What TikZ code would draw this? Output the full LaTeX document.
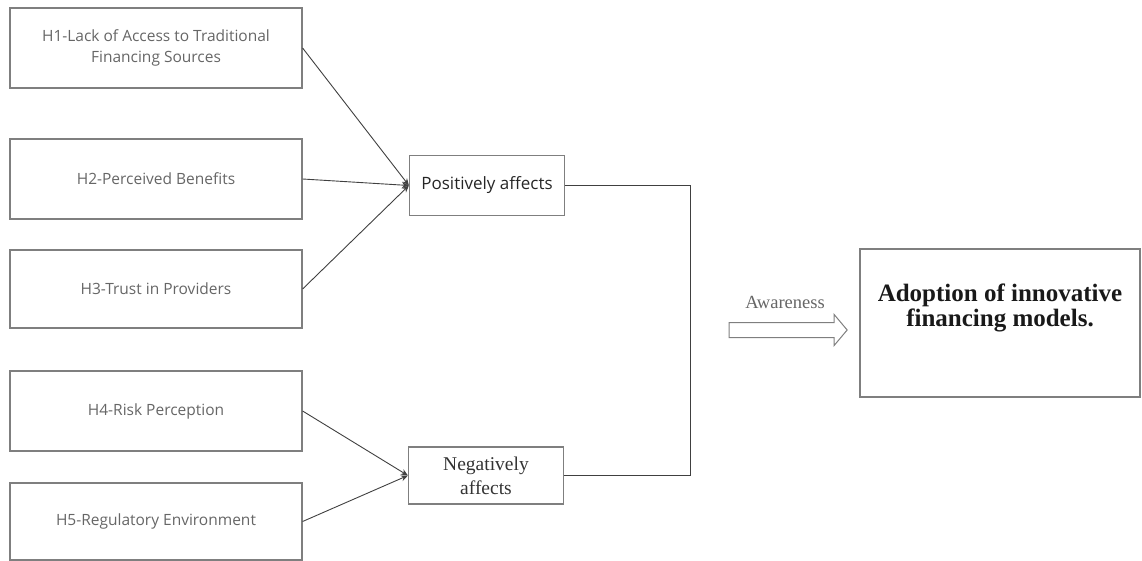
\documentclass[tikz,border=0pt]{standalone}
\usepackage{fontspec}
\setmainfont{Liberation Serif}
\newfontfamily\uifont{Open Sans}
\usetikzlibrary{positioning, arrows.meta, shapes.arrows}
\definecolor{boxgray}{HTML}{7F7F7F}
\definecolor{textgray}{HTML}{666666}

\begin{document}
\begin{tikzpicture}[x=1pt, y=-1pt, >={Stealth[length=7pt,width=6pt]}, semithick,
                hyp/.style={draw=boxgray, line width=1.2pt, minimum width=292pt, minimum height=80pt,
                            align=center, text=textgray, font=\uifont\fontsize{15.5}{21}\selectfont},
                effect/.style={draw=boxgray, line width=1.2pt, minimum width=155pt, align=center},
                link/.style={draw=black!75, line width=0.9pt}]

                \useasboundingbox (0,0) rectangle (1142,561);

                \node[hyp] (h1) at (156,48) {H1-Lack of Access to Traditional\\Financing Sources};
                \node[hyp] (h2) at (156,179) {H2-Perceived Benefits};
                \node[hyp, minimum height=78pt] (h3) at (156,289) {H3-Trust in Providers};
                \node[hyp] (h4) at (156,411) {H4-Risk Perception};
                \node[hyp, minimum height=77pt] (h5) at (156,521.5) {H5-Regulatory Environment};

                \node[effect, minimum height=60pt, text=black!85,
                      font=\uifont\fontsize{17}{20}\selectfont] (pos) at (487,185.5) {Positively affects};
                \node[effect, minimum height=57pt, text=black!80,
                      font=\fontsize{19.5}{24}\selectfont] (neg) at (486,475.5) {Negatively\\affects};

                \node[draw=boxgray, line width=1.2pt, minimum width=280pt, minimum height=148pt] (adopt) at (1000,323) {};
                \node[align=center, text=black!90, font=\bfseries\fontsize{25}{25}\selectfont] (adopttext) at (1000,307.5)
                      {Adoption of innovative\\financing models.};

                \node[single arrow, draw=boxgray, line width=1pt, inner xsep=0pt, inner ysep=7pt, minimum height=118pt,
                      single arrow head extend=8pt, single arrow tip angle=100] (awarrow) at (785,330) {};
                \node[text=textgray, font=\fontsize{18.5}{20}\selectfont] (aware) at (785,302) {Awareness};

                \coordinate (join) at (690,0);

                \path[->, every edge/.style={link}]
                (h1.east) edge (pos.west)
                (h2.east) edge (pos.west)
                (h3.east) edge (pos.west)
                (h4.east) edge (neg.west)
                (h5.east) edge (neg.west);
                \draw[link] (pos.east) -- (pos.east -| join) -- (neg.east -| join) -- (neg.east);
\end{tikzpicture}
\end{document}
